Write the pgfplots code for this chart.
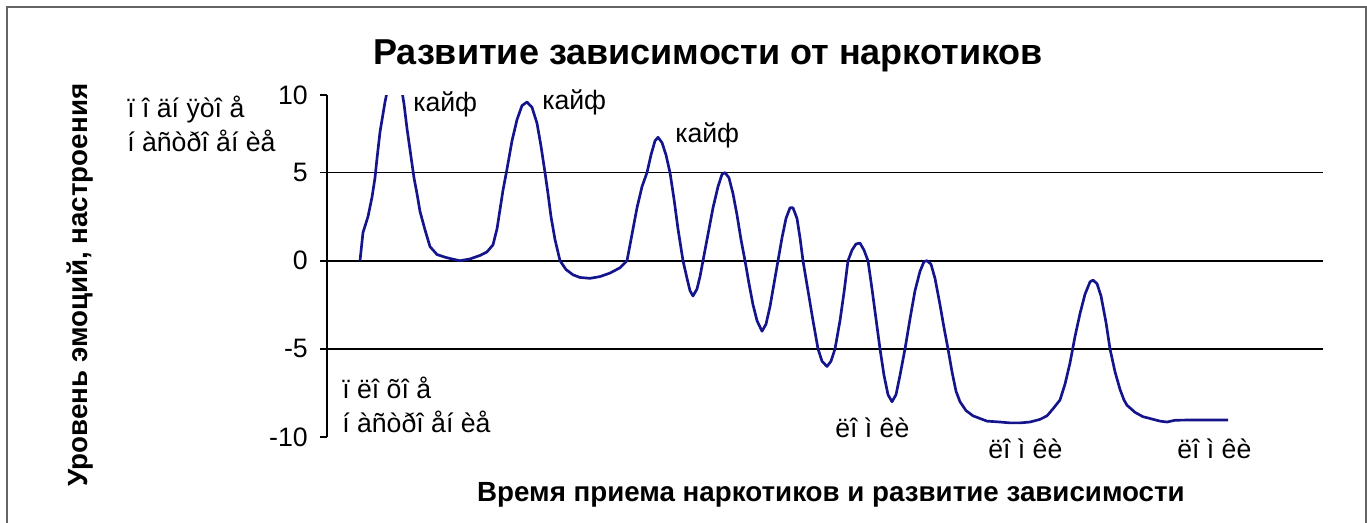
\documentclass[border=0pt]{standalone}
\usepackage{fontspec}
\setmainfont{Liberation Sans}
\usepackage{pgfplots}
\usepackage{pgfplotstable}
\pgfplotsset{compat=1.18}

\definecolor{curve}{RGB}{20,20,140}
\definecolor{frame}{RGB}{100,100,100}

% x: position along the time axis (picture units), y: mood level
\pgfplotstableread{
x y
360 0
363 1.6
368 2.5
372 3.6
375 4.7
377 5.8
380 7.3
385 9.0
390 10.4
395 10.6
400 10.3
404 8.9
407 7.5
412 5.5
414 4.7
417 3.8
420 2.8
425 1.75
430 0.8
437 0.35
445 0.2
452 0.1
460 0
470 0.1
480 0.3
487 0.5
493 0.9
497 1.8
500 2.9
503 4.0
507 5.2
512 6.8
517 8.0
522 8.8
527 9.0
532 8.7
537 7.8
541 6.5
545 5.0
548 3.8
551 2.5
555 1.2
560 0
566 -0.5
573 -0.8
580 -0.95
590 -1.0
600 -0.9
610 -0.7
620 -0.4
627 0
632 1.5
637 3.0
642 4.2
647 5.0
651 6.0
655 6.8
658 7.0
662 6.7
666 6.0
670 5.0
674 3.5
678 1.8
683 0
687 -1.0
690 -1.7
693 -2.0
697 -1.6
700 -0.9
703 0
708 1.5
713 3.0
718 4.2
722 4.9
725 5.0
729 4.7
733 3.8
737 2.6
741 1.2
745 0
749 -1.3
753 -2.5
757 -3.4
762 -4.0
766 -3.6
770 -2.6
774 -1.3
778 0
782 1.3
786 2.4
790 3.0
793 3.0
797 2.4
800 1.3
803 0
808 -1.7
813 -3.4
818 -5.0
822 -5.7
827 -6.0
831 -5.7
835 -5.0
840 -3.4
844 -1.8
848 0
852 0.6
856 0.95
860 1.0
864 0.6
868 0
872 -1.6
876 -3.3
880 -5.0
884 -6.5
888 -7.6
892 -8.0
896 -7.6
900 -6.5
905 -5.0
910 -3.3
915 -1.7
920 -0.6
924 -0.05
927 0
931 -0.2
935 -1.0
940 -2.5
944 -3.8
948 -5.0
952 -6.3
956 -7.4
960 -8.0
966 -8.5
973 -8.8
980 -8.95
987 -9.1
1000 -9.15
1010 -9.2
1020 -9.2
1030 -9.15
1040 -9.0
1047 -8.8
1053 -8.4
1060 -7.9
1065 -7.0
1070 -5.8
1075 -4.3
1080 -3.0
1085 -1.9
1090 -1.2
1093 -1.1
1097 -1.3
1101 -2.0
1106 -3.5
1110 -5.0
1115 -6.3
1120 -7.3
1124 -7.9
1127 -8.2
1135 -8.6
1143 -8.85
1150 -8.95
1160 -9.1
1167 -9.15
1175 -9.05
1185 -9.04
1200 -9.04
1215 -9.04
1228 -9.04
}\moodtable

\begin{document}
\begin{tikzpicture}
\useasboundingbox (0,0) rectangle (1025.25pt,391.5pt);
\draw[frame, line width=1.5pt] (5.25pt,-20pt) rectangle (1024.5pt,386.25pt);

\begin{axis}[
    at={(245.25pt,63.75pt)}, anchor=south west,
    width=747pt, height=256.5pt, scale only axis,
    xmin=327, xmax=1323,
    ymin=-10, ymax=9.4,
    axis lines*=left,
    x axis line style={draw=none},
    y axis line style={line width=1.2pt, black},
    xtick=\empty,
    ytick={-10,-5,0,5,9.4},
    yticklabels={-10,-5,0,5,10},
    tick align=outside,
    major tick length=5.25pt,
    ytick style={line width=1.2pt, black},
    extra y ticks={-5,0,5},
    extra y tick labels={},
    extra y tick style={grid=major, major grid style={black, line width=1.2pt}},
    yticklabel style={font=\fontsize{20}{22}\selectfont, inner sep=0pt, xshift=-9pt},
    title={Развитие зависимости от наркотиков},
    title style={font=\fontsize{27}{30}\selectfont\bfseries, at={(axis description cs:0.3825,1.091)}, anchor=center},
    xlabel={Время приема наркотиков и развитие зависимости},
    xlabel style={font=\fontsize{20.8}{23}\selectfont\bfseries, at={(axis description cs:0.506,-0.17)}, anchor=center},
    ylabel={Уровень эмоций, настроения},
    ylabel style={font=\fontsize{20.8}{23}\selectfont\bfseries, at={(axis description cs:-0.248,0.444)}, anchor=center},
]
\addplot[curve, line width=2pt, line join=round] table[x=x, y=y] {\moodtable};
\end{axis}

\begin{scope}[every node/.style={font=\fontsize{20}{22}\selectfont, inner sep=0pt, anchor=base west}]
\node at (95.25pt,303pt) {ï î äí ÿòî å};
\node at (95.25pt,277.5pt) {í àñòðî åí èå};
\node at (256.5pt,93pt) {ï ëî õî å};
\node at (256.5pt,67.5pt) {í àñòðî åí èå};
\node at (309.75pt,307.5pt) {кайф};
\node at (406.5pt,309pt) {кайф};
\node at (506.25pt,284.25pt) {кайф};
\node at (626.25pt,63.75pt) {ëî ì êè};
\node at (741pt,48pt) {ëî ì êè};
\node at (882.75pt,48pt) {ëî ì êè};
\end{scope}
\end{tikzpicture}
\end{document}
